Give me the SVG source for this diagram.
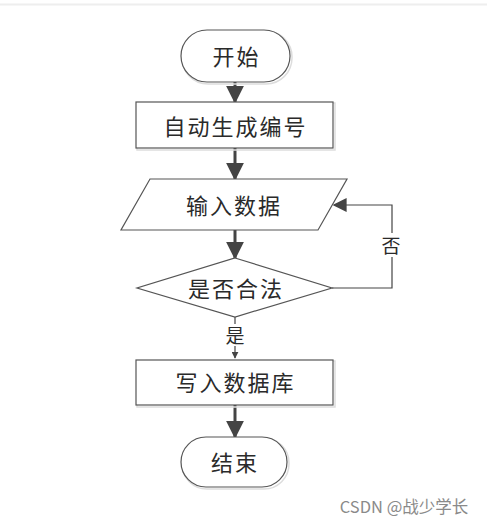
<svg xmlns="http://www.w3.org/2000/svg" width="487" height="525" viewBox="0 0 487 525">
<defs>
<style>
.shape{fill:#fff;stroke:#555;stroke-width:1.2}
.shadow{fill:none;stroke:#ddd;stroke-width:1.5}
.t{font-family:"Noto Sans CJK SC","Liberation Sans",sans-serif;font-size:22px;letter-spacing:2px;fill:#2a2a2a;text-anchor:middle;dominant-baseline:central}
.ln{fill:none;stroke:#444;stroke-width:3}
.thin{fill:none;stroke:#444;stroke-width:1.2}
</style>
<marker id="ah" viewBox="0 0 10 10" refX="9" refY="5" markerWidth="6" markerHeight="6" orient="auto" markerUnits="strokeWidth"><path d="M0,0L10,5L0,10z" fill="#444"/></marker>
<marker id="ah2" viewBox="0 0 10 10" refX="9" refY="5" markerWidth="14" markerHeight="14" orient="auto" markerUnits="userSpaceOnUse"><path d="M0,0L10,5L0,10z" fill="#444"/></marker>
<marker id="ah3" viewBox="0 0 10 10" refX="9" refY="5" markerWidth="7" markerHeight="7" orient="auto" markerUnits="userSpaceOnUse"><path d="M0,0L10,5L0,10z" fill="#444"/></marker>
</defs>
<rect x="0" y="0" width="487" height="525" fill="#fff"/>
<line x1="0" y1="4.5" x2="487" y2="4.5" stroke="#eee" stroke-width="2"/>
<g id="connectors">
<line class="ln" x1="235" y1="82" x2="235" y2="102" marker-end="url(#ah)"/>
<line class="ln" x1="235" y1="148" x2="235" y2="179" marker-end="url(#ah)"/>
<line class="ln" x1="235" y1="230" x2="235" y2="258" marker-end="url(#ah)"/>
<polyline class="thin" points="332,288 392,288 392,205 334,205" marker-end="url(#ah2)"/>
<rect x="380" y="233" width="24" height="24" fill="#fff"/>
<text class="t" x="391" y="244" style="font-size:19px;letter-spacing:0">否</text>
<line class="thin" x1="235" y1="317" x2="235" y2="358" marker-end="url(#ah3)"/>
<rect x="223" y="324" width="24" height="22" fill="#fff"/>
<text class="t" x="235" y="334" style="font-size:19px;letter-spacing:0">是</text>
<line class="ln" x1="235" y1="405" x2="235" y2="437" marker-end="url(#ah)"/>
</g>
<g id="start">
<rect class="shadow" x="182" y="31" width="110" height="53" rx="26"/>
<rect class="shape" x="181" y="30" width="109" height="52" rx="26"/>
<text class="t" x="236.5" y="54.5">开始</text>
</g>
<g id="autonum">
<rect class="shadow" x="137" y="103" width="198" height="47"/>
<rect class="shape" x="136" y="102" width="197" height="46"/>
<text class="t" x="235.5" y="124.5">自动生成编号</text>
</g>
<g id="input">
<polygon class="shape" points="150,179 347,179 318,230 121,230"/>
<text class="t" x="234" y="203.5">输入数据</text>
</g>
<g id="check">
<polygon class="shape" points="235,258 332,288 235,317 137,288"/>
<text class="t" x="236" y="286.5">是否合法</text>
</g>
<g id="write">
<rect class="shadow" x="137" y="361" width="198" height="46"/>
<rect class="shape" x="136" y="360" width="197" height="45"/>
<text class="t" x="235.5" y="380.5">写入数据库</text>
</g>
<g id="end">
<rect class="shadow" x="182" y="438" width="107" height="51" rx="25"/>
<rect class="shape" x="181" y="437" width="106" height="50" rx="25"/>
<text class="t" x="235" y="460.5">结束</text>
</g>
<text x="404" y="506" style="font-family:'Noto Sans CJK SC','Liberation Sans',sans-serif;font-size:16.5px;fill:#8a8a8a;text-anchor:middle;dominant-baseline:central">CSDN @战少学长</text>
</svg>
